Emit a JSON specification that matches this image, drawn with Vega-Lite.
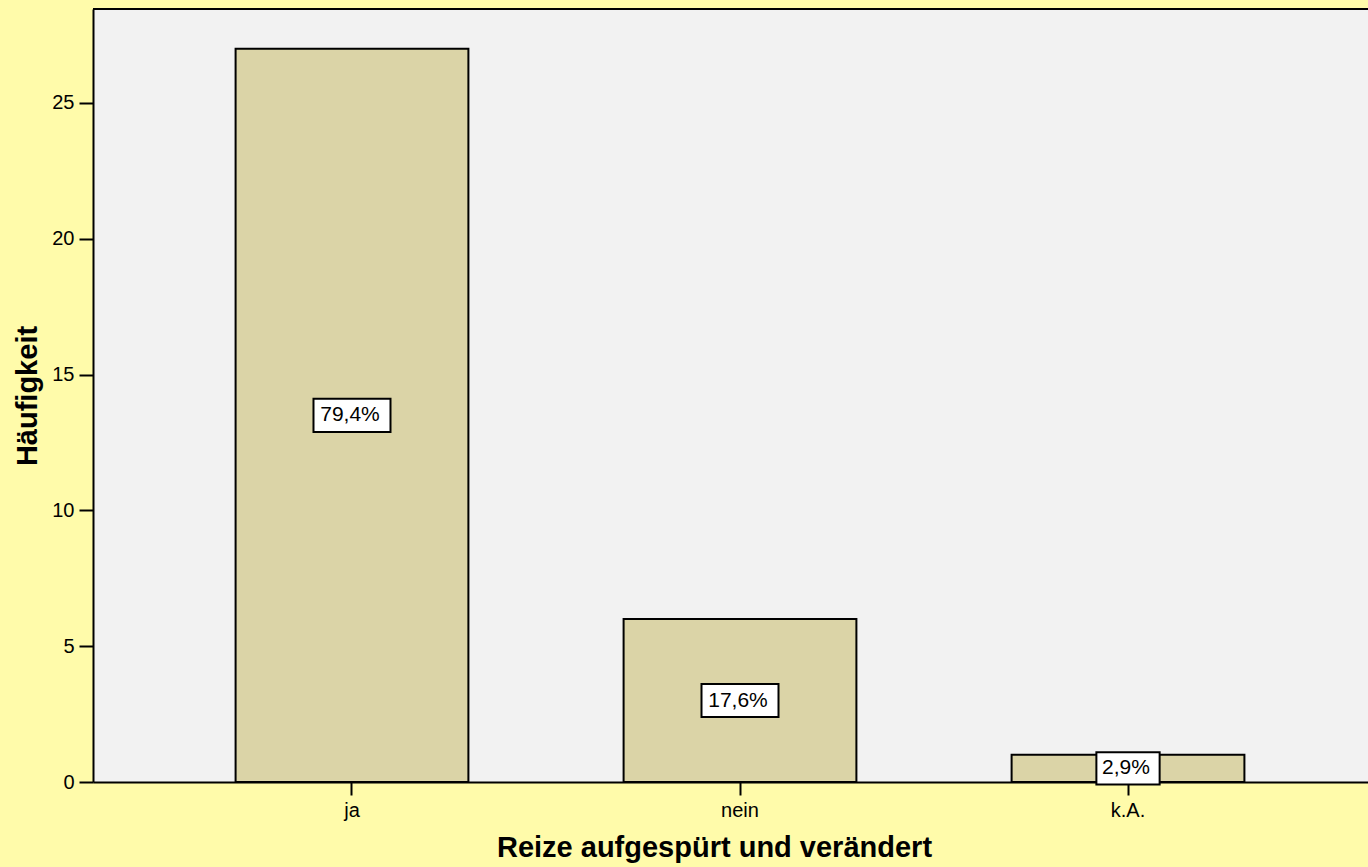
{
  "$schema": "https://vega.github.io/schema/vega-lite/v6.json",
  "autosize": "none",
  "width": 1275,
  "height": 773,
  "padding": {"left": 93, "top": 9, "right": 0, "bottom": 85},
  "background": "#FFFBAA",
  "config": {
    "view": {"fill": "#F2F2F2", "stroke": null},
    "font": "Liberation Sans",
    "axis": {
      "labelColor": "black", "titleColor": "black", "tickColor": "black", "domainColor": "black",
      "labelFont": "Liberation Sans", "titleFont": "Liberation Sans",
      "labelFontSize": 20, "titleFontSize": 29, "titleFontWeight": "bold",
      "tickWidth": 2, "domainWidth": 2, "grid": false
    }
  },
  "data": {
    "values": [
      {"cat": "ja", "n": 27, "pct": "79,4%"},
      {"cat": "nein", "n": 6, "pct": "17,6%"},
      {"cat": "k.A.", "n": 1, "pct": "2,9%"}
    ]
  },
  "layer": [
    {
      "mark": {"type": "bar", "fill": "#DBD4A7", "stroke": "black", "strokeWidth": 2},
      "encoding": {
        "x": {
          "field": "cat", "type": "nominal", "sort": ["ja", "nein", "k.A."],
          "scale": {"range": [0, 1294], "paddingInner": 0.4, "paddingOuter": 0.3675},
          "axis": {"title": "Reize aufgespürt und verändert", "labelAngle": 0, "tickSize": 13, "labelPadding": 5, "titlePadding": 13, "titleX": 621, "titleAlign": "center"}
        },
        "y": {
          "field": "n", "type": "quantitative",
          "scale": {"domain": [0, 28.46], "nice": false},
          "axis": {"title": "Häufigkeit", "values": [0, 5, 10, 15, 20, 25], "tickSize": 14, "labelPadding": 5, "titlePadding": 9}
        }
      }
    },
    {
      "transform": [{"calculate": "datum.n/2", "as": "mid"}, {"filter": "length(datum.pct) == 5"}],
      "mark": {"type": "point", "shape": "M-1,-0.43H1V0.43H-1Z", "size": 5929, "filled": true, "fill": "white", "stroke": "black", "strokeWidth": 2, "opacity": 1},
      "encoding": {
        "x": {"field": "cat", "type": "nominal", "sort": ["ja", "nein", "k.A."]},
        "y": {"field": "mid", "type": "quantitative"}
      }
    },
    {
      "transform": [{"calculate": "datum.n/2", "as": "mid"}, {"filter": "length(datum.pct) == 4"}],
      "mark": {"type": "point", "shape": "M-1,-0.51H1V0.51H-1Z", "size": 4000, "filled": true, "fill": "white", "stroke": "black", "strokeWidth": 2, "opacity": 1},
      "encoding": {
        "x": {"field": "cat", "type": "nominal", "sort": ["ja", "nein", "k.A."]},
        "y": {"field": "mid", "type": "quantitative"}
      }
    },
    {
      "transform": [{"calculate": "datum.n/2", "as": "mid"}],
      "mark": {"type": "text", "fontSize": 21, "color": "black", "baseline": "middle", "align": "center", "font": "Liberation Sans", "dx": -2},
      "encoding": {
        "x": {"field": "cat", "type": "nominal", "sort": ["ja", "nein", "k.A."]},
        "y": {"field": "mid", "type": "quantitative"},
        "text": {"field": "pct"}
      }
    },
    {
      "mark": {"type": "rule", "stroke": "black", "strokeWidth": 2},
      "encoding": {"y": {"datum": 28.46}}
    }
  ]
}
